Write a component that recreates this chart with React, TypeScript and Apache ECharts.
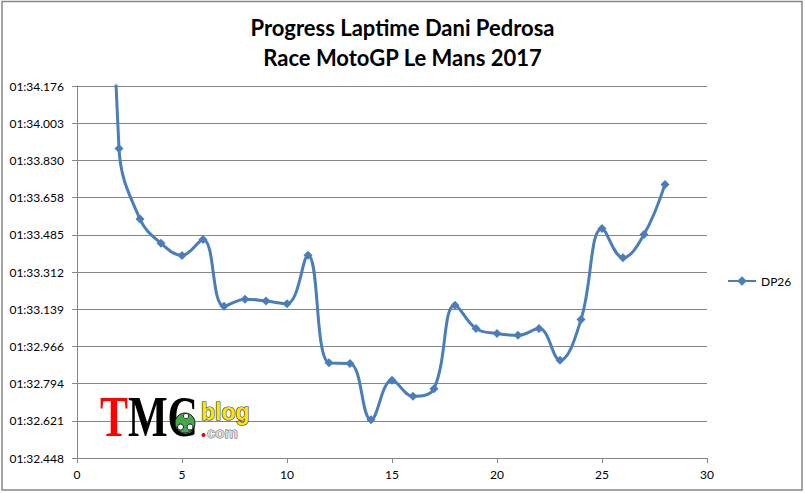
import React, { useEffect, useRef } from "react";
import * as echarts from "echarts";

// ---- data ----
const laps = [1, 2, 3, 4, 5, 6, 7, 8, 9, 10, 11, 12, 13, 14, 15, 16, 17, 18, 19, 20, 21, 22, 23, 24, 25, 26, 27, 28];
// lap times in seconds (01:33.886 -> 93.886); lap 1 is off the top of the chart
const lapTimes = [
  97.5, 93.886, 93.558, 93.445, 93.389, 93.463, 93.153, 93.186, 93.177, 93.165,
  93.39, 92.89, 92.887, 92.626, 92.809, 92.735, 92.77, 93.158, 93.049, 93.026,
  93.018, 93.049, 92.902, 93.091, 93.514, 93.378, 93.486, 93.719,
];
const yTickBase = 92.448; // 01:32.448
const yTickStep = 0.1728;
const yTickCount = 10; // up to 01:34.176
const xMin = 0;
const xMax = 30;
const xStep = 5;
const seriesName = "DP26";
const titleLines = ["Progress Laptime Dani Pedrosa", "Race MotoGP Le Mans 2017"];

function formatLap(total: number): string {
  const m = Math.floor(total / 60 + 1e-9);
  const s = total - m * 60;
  const mm = m < 10 ? "0" + m : "" + m;
  const ss = (s < 10 ? "0" : "") + s.toFixed(3);
  return mm + ":" + ss;
}

const GRAY = "#868686";
const BLUE = "#4a7ebb";
const FONT = "Lato, 'Open Sans', sans-serif";

export default function App() {
  const ref = useRef<HTMLDivElement>(null);
  useEffect(() => {
    if (!ref.current) return;
    const chart = echarts.init(ref.current, null, { renderer: "svg" });
    const data = laps.map((l, i) => [l, lapTimes[i] - yTickBase]);
    chart.setOption({
      animation: false,
      backgroundColor: "#ffffff",
      title: {
        text: titleLines.join("\n"),
        left: "center",
        top: 12,
        padding: 0,
        textStyle: {
          fontFamily: FONT,
          fontSize: 22,
          fontWeight: "bold",
          lineHeight: 30,
          color: "#000",
        },
      },
      legend: {
        data: [seriesName],
        left: 727,
        top: 275,
        padding: 0,
        itemWidth: 28,
        itemHeight: 12,
        textStyle: { fontFamily: FONT, fontSize: 12, color: "#000" },
      },
      grid: { left: 77, right: 98, top: 86, bottom: 35, containLabel: false },
      xAxis: {
        type: "value",
        min: xMin,
        max: xMax,
        interval: xStep,
        axisLine: { show: true, lineStyle: { color: GRAY, width: 1 } },
        axisTick: { show: true, inside: false, length: 5, lineStyle: { color: GRAY } },
        splitLine: { show: false },
        axisLabel: { color: "#000", fontFamily: FONT, fontSize: 12, margin: 10 },
      },
      yAxis: {
        type: "value",
        min: 0,
        max: yTickStep * yTickCount,
        interval: yTickStep,
        axisLine: { show: true, lineStyle: { color: GRAY, width: 1 } },
        axisTick: { show: true, inside: false, length: 5, lineStyle: { color: GRAY } },
        splitLine: { show: true, lineStyle: { color: GRAY, width: 1 } },
        axisLabel: {
          color: "#000",
          fontFamily: FONT,
          fontSize: 12,
          margin: 13,
          formatter: (v: number) => formatLap(yTickBase + v),
        },
      },
      series: [
        {
          name: seriesName,
          type: "line",
          data,
          smooth: 0.4,
          symbol: "diamond",
          symbolSize: 9,
          clip: true,
          lineStyle: { color: BLUE, width: 3 },
          itemStyle: { color: BLUE },
        },
      ],
      graphic: [
        {
          type: "rect",
          shape: { x: 2, y: 1.5, width: 800, height: 488.5 },
          style: { fill: "none", stroke: GRAY, lineWidth: 1.5 },
          z: 100,
          silent: true,
        },
        {
          type: "group",
          x: 100,
          y: 0,
          scaleX: 0.75,
          z: 100,
          children: [
            {
              type: "text",
              x: 0,
              y: 417.5,
              z: 100,
              style: {
                text: "T",
                fill: "#ff0000",
                font: "bold 56px 'Liberation Serif', serif",
                verticalAlign: "middle",
              },
            },
            {
              type: "text",
              x: 37.3,
              y: 417.5,
              z: 100,
              style: {
                text: "MC",
                fill: "#000000",
                font: "bold 56px 'Liberation Serif', serif",
                verticalAlign: "middle",
              },
            },
          ],
        },
        {
          type: "circle",
          shape: { cx: 185, cy: 423, r: 10 },
          style: { fill: "#46a84a", stroke: "#1a1a1a", lineWidth: 1 },
          z: 101,
        },
        {
          type: "circle",
          shape: { cx: 180.5, cy: 427, r: 3 },
          style: { fill: "#ffffff", stroke: "#1a1a1a", lineWidth: 1 },
          z: 102,
        },
        {
          type: "circle",
          shape: { cx: 190, cy: 427, r: 3 },
          style: { fill: "#ffffff", stroke: "#1a1a1a", lineWidth: 1 },
          z: 102,
        },
        {
          type: "circle",
          shape: { cx: 186, cy: 416, r: 2.6 },
          style: { fill: "#ffffff", stroke: "#1a1a1a", lineWidth: 0.8 },
          z: 102,
        },
        {
          type: "text",
          x: 201,
          y: 412,
          z: 103,
          style: {
            text: "blog",
            fill: "#ffe600",
            stroke: "#333333",
            lineWidth: 1.2,
            font: "bold 23px 'Liberation Sans', sans-serif",
            verticalAlign: "middle",
          },
        },
        {
          type: "circle",
          shape: { cx: 203.5, cy: 435, r: 2 },
          style: { fill: "#e00000" },
          z: 103,
        },
        {
          type: "text",
          x: 207,
          y: 432.5,
          z: 103,
          style: {
            text: "com",
            fill: "#d8d8d8",
            stroke: "#555555",
            lineWidth: 0.8,
            font: "bold 15px 'Liberation Sans', sans-serif",
            verticalAlign: "middle",
          },
        },
      ],
    });
    return () => chart.dispose();
  }, []);
  return (
    <div
      ref={ref}
      style={{ position: "absolute", left: 0, top: 0, width: 805, height: 493 }}
    />
  );
}
